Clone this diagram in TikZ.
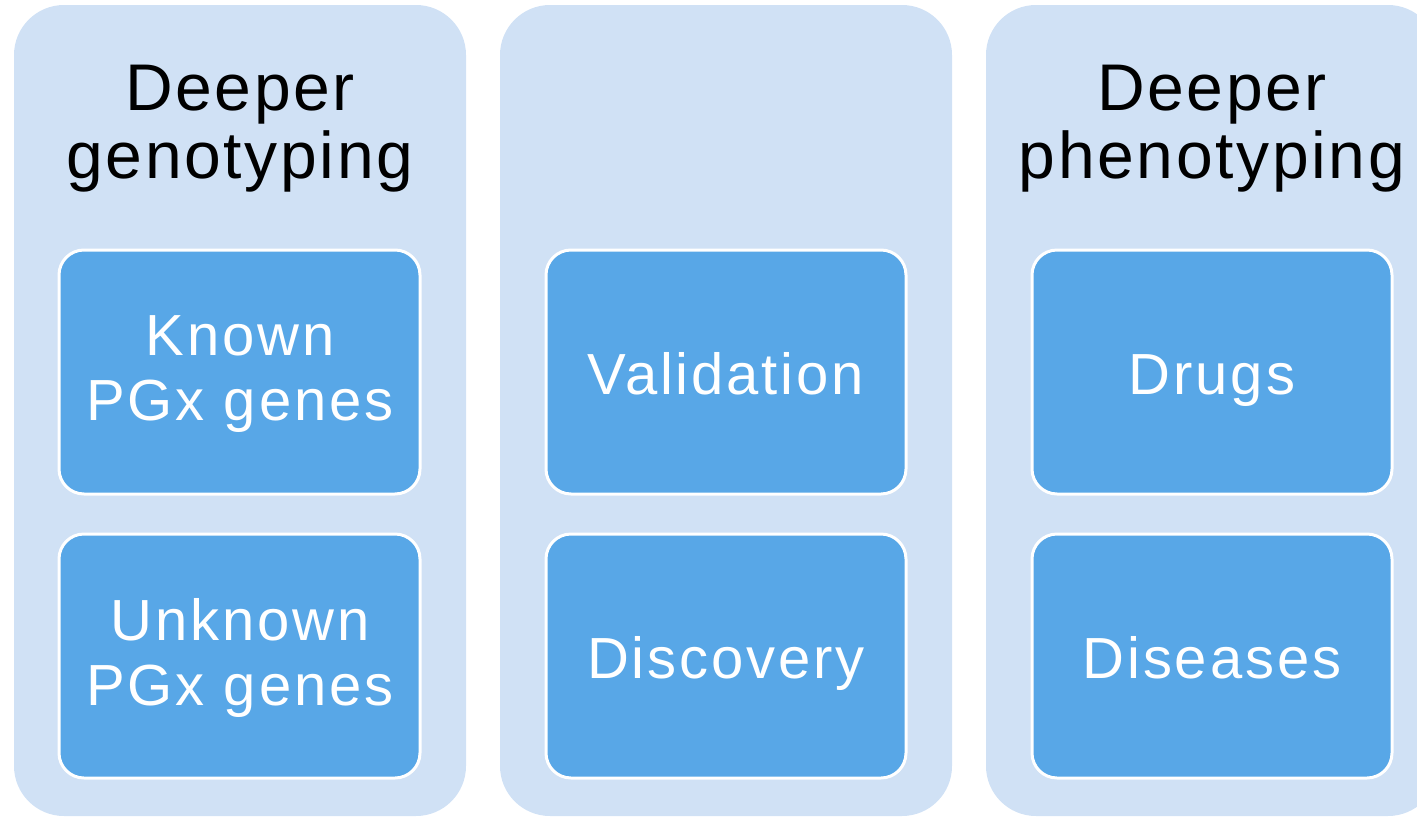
\documentclass[tikz,border=0pt]{standalone}
\usepackage{fontspec}
\setmainfont{Liberation Sans}
\newfontfamily\headfont[LetterSpace=4]{Liberation Sans}
\newfontfamily\innerfont[LetterSpace=5]{Liberation Sans}
\definecolor{outerblue}{HTML}{D0E1F5}
\definecolor{innerblue}{HTML}{58A7E7}
\begin{document}
\begin{tikzpicture}[x=1pt,y=-1pt,
  column/.style={fill=outerblue, rounded corners=50pt},
  inner/.style={fill=innerblue, draw=white, line width=3pt, rounded corners=25pt},
  head/.style={font=\headfont\fontsize{66}{68}\selectfont, text=black, align=center},
  itext/.style={font=\innerfont\fontsize{58}{65}\selectfont, text=white, align=center},
  stext/.style={itext, anchor=base}]
\useasboundingbox (0,0) rectangle (1417,817);
\begin{scope}
\clip (0,0) rectangle (1417,817);
\fill[column] (14,5) rectangle (466,816);
\fill[column] (500,5) rectangle (952,816);
\fill[column] (986,5) rectangle (1438,816);
\end{scope}
\node[head] (h1) at (240,129) {Deeper\\genotyping};
\node[head] (h3) at (1212,129) {Deeper\\phenotyping};
\draw[inner] (59,250) rectangle (420,494);
\draw[inner] (59,534) rectangle (420,778);
\draw[inner] (546,250) rectangle (906,494);
\draw[inner] (546,534) rectangle (906,778);
\draw[inner] (1032,250) rectangle (1392,494);
\draw[inner] (1032,534) rectangle (1392,778);
\node[itext] (a1) at (240,374) {Known\\PGx genes};
\node[itext] (a2) at (240,658) {Unknown\\PGx genes};
\node[stext] (b1) at (726,394) {Validation};
\node[stext] (b2) at (726,678) {Discovery};
\node[stext] (c1) at (1212,394) {Drugs};
\node[stext] (c2) at (1212,678) {Diseases};
\end{tikzpicture}
\end{document}
